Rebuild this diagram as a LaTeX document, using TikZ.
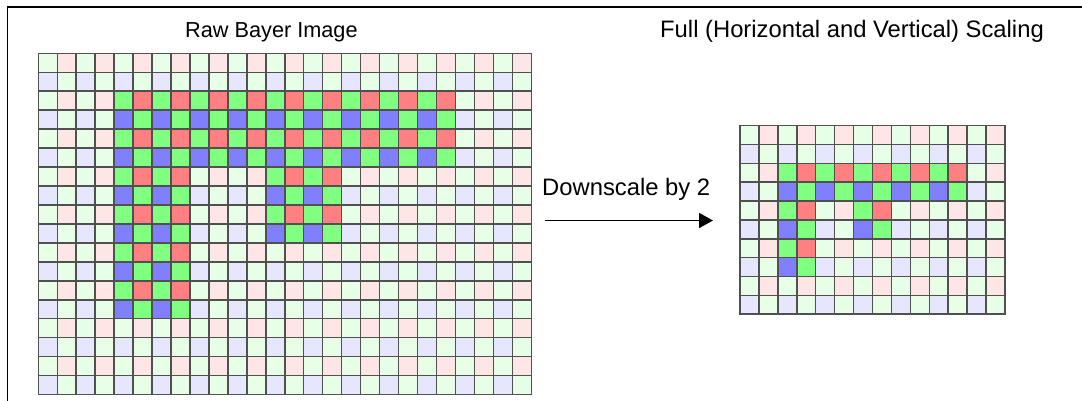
\documentclass[tikz,border=0pt]{standalone}
\usepackage{fontspec}
\setmainfont{Liberation Sans}
\usetikzlibrary{arrows.meta}
\definecolor{L0}{HTML}{E6FFE6}
\definecolor{L1}{HTML}{FFE6E6}
\definecolor{L2}{HTML}{E6E6FF}
\definecolor{L3}{HTML}{E6FFE6}
\definecolor{B0}{HTML}{80FF80}
\definecolor{B1}{HTML}{FF8080}
\definecolor{B2}{HTML}{8080FF}
\definecolor{B3}{HTML}{80FF80}
\definecolor{gridgray}{HTML}{505050}
\tikzset{
  cellbox/.style={draw=gridgray, line width=1.5pt},
  captiontext/.style={anchor=base west, inner sep=0pt},
  frameline/.style={line width=1.6pt, draw=black},
  arrowline/.style={line width=1.8pt, draw=black, -{Triangle[length=14pt,width=15pt]}}
}
\begin{document}
\begin{tikzpicture}[x=1pt,y=-1pt]
\useasboundingbox (0,0) rectangle (1082,401);
% frame (top and left edges visible)
\draw[frameline] (7.5,401) -- (7.5,6.8) -- (1082,6.8);
% raw Bayer grid
\foreach \r in {0,...,17}{
  \foreach \c in {0,...,25}{
    \pgfmathtruncatemacro\br{((\r>=2)&&(\r<=5)&&(\c>=4)&&(\c<=21)) || ((\r>=6)&&(\r<=9)&&(((\c>=4)&&(\c<=7))||((\c>=12)&&(\c<=15)))) || ((\r>=10)&&(\r<=13)&&(\c>=4)&&(\c<=7))}
    \pgfmathtruncatemacro\k{mod(\r,2)*2+mod(\c,2)}
    \edef\cc{\ifnum\br=1 B\else L\fi\k}
    \filldraw[cellbox, fill=\cc] ({38.3+\c*18.96},{53.3+\r*18.96}) rectangle ++(18.96,18.96);
  }
}
% scaled grid
\foreach \r in {0,...,9}{
  \foreach \c in {0,...,13}{
    \pgfmathtruncatemacro\br{((\r>=2)&&(\r<=3)&&(\c>=2)&&(\c<=11)) || ((\r>=4)&&(\r<=5)&&(((\c>=2)&&(\c<=3))||((\c>=6)&&(\c<=7)))) || ((\r>=6)&&(\r<=7)&&(\c>=2)&&(\c<=3))}
    \pgfmathtruncatemacro\k{mod(\r,2)*2+mod(\c,2)}
    \edef\cc{\ifnum\br=1 B\else L\fi\k}
    \filldraw[cellbox, fill=\cc] ({740+\c*18.93},{125.7+\r*18.85}) rectangle ++(18.93,18.85);
  }
}
\node[captiontext, font=\fontsize{21.7}{26}\selectfont] (rawtitle) at (185,38) {Raw Bayer Image};
\node[captiontext, font=\fontsize{23.8}{28}\selectfont] (fulltitle) at (660,38) {Full (Horizontal and Vertical) Scaling};
\node[captiontext, font=\fontsize{23.8}{28}\selectfont] (downlabel) at (542,196) {Downscale by 2};
\coordinate (arrowstart) at (545,220.5);
\coordinate (arrowend) at (713,220.5);
\draw[arrowline] (arrowstart) -- (arrowend);
\end{tikzpicture}
\end{document}
